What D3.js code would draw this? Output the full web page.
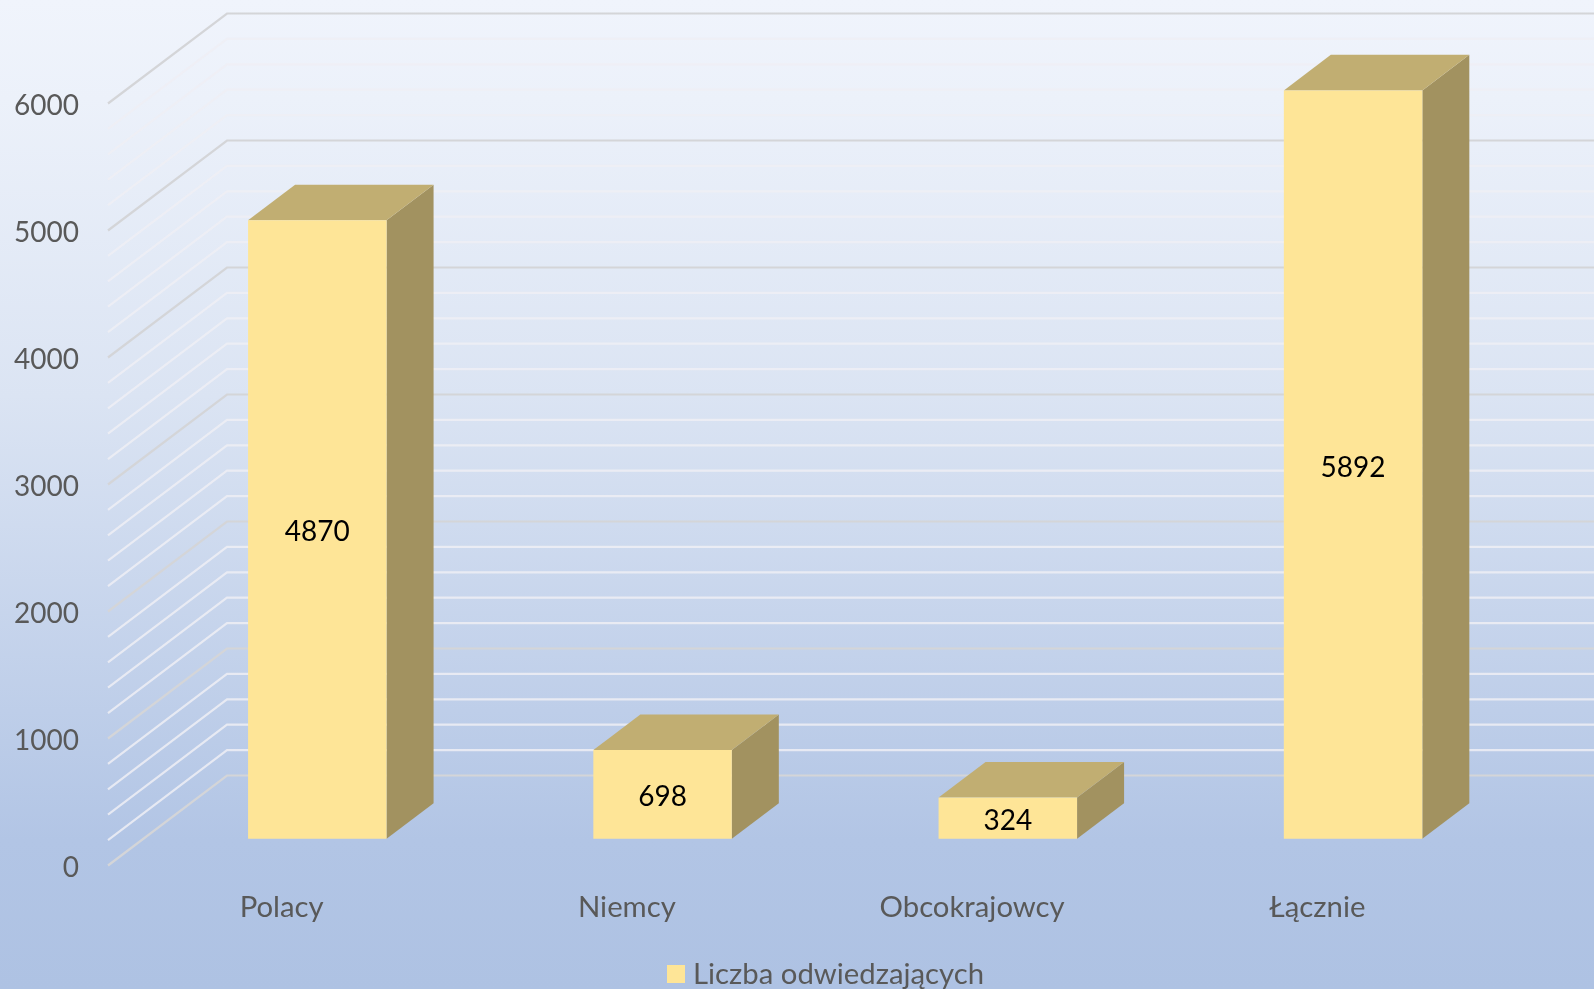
<!DOCTYPE html>
<html><head><meta charset="utf-8">
<script src="https://cdn.jsdelivr.net/npm/d3@7"></script>
<style>html,body{margin:0;padding:0;overflow:hidden;background:#aec2e3}svg{display:block}text{font-family:Lato,"Open Sans",sans-serif}.soft{filter:blur(0.5px)}</style>
</head><body><div id="c"></div>
<script>
const categories = ["Polacy","Niemcy","Obcokrajowcy","Łącznie"];
const values = [4870,698,324,5892];
const seriesName = "Liczba odwiedzających";
const yMax = 6000, majorStep = 1000, minorStep = 200;

const W=1594,H=989;
const depth={x:119,y:90}, barZ=[0.3,0.695];
const svg=d3.select("#c").append("svg").attr("width",W).attr("height",H);
const defs=svg.append("defs");
const g=defs.append("linearGradient").attr("id","bg").attr("x1",0).attr("y1",0).attr("x2",0).attr("y2",1);
[[0,"#f0f4fc"],[0.1,"#ecf1fa"],[0.4,"#dbe4f3"],[0.85,"#b2c5e5"],[1,"#aec2e3"]].forEach(s=>g.append("stop").attr("offset",s[0]).attr("stop-color",s[1]));
svg.append("rect").attr("width",W).attr("height",H).attr("fill","url(#bg)");

const root=svg.append("g").attr("class","soft");
const y=d3.scaleLinear().domain([0,yMax]).range([865,103]);
const xc=d3.scaleBand().domain(categories).range([108,1489]);
const P=(px,v,z)=>[px+z*depth.x,y(v)-z*depth.y];
const line=d3.line();

// grid
const gridVals=d3.range(0,yMax+1,minorStep);
const isMajor=v=>v%majorStep===0;
root.append("g").selectAll("path").data(gridVals.slice().sort((a,b)=>isMajor(a)-isMajor(b))).join("path")
 .attr("d",v=>line([[108,y(v)+0.5],[108+depth.x,y(v)+0.5-depth.y],[W+20,y(v)+0.5-depth.y]]))
 .attr("fill","none")
 .attr("stroke",v=>isMajor(v)?"#d4d5d8":"#eeeff4")
 .attr("stroke-opacity",v=>isMajor(v)?1:0.85)
 .attr("stroke-width",2.2);

// bars
const bars=root.append("g").attr("transform","translate(1,0.7)").selectAll("g").data(categories.map((c,i)=>({c,v:values[i]}))).join("g");
const bw=138.5;
const left=d=>xc(d.c)+xc.step()/2-bw/2;
const poly=f=>d=>line(f(d))+"Z";
bars.append("path").attr("fill","#a29260")
 .attr("d",poly(d=>[P(left(d)+bw,d.v,barZ[0]),P(left(d)+bw,d.v,barZ[1]),P(left(d)+bw,0,barZ[1]),P(left(d)+bw,0,barZ[0])]));
bars.append("path").attr("fill","#c1ae72")
 .attr("d",poly(d=>[P(left(d),d.v,barZ[0]),P(left(d),d.v,barZ[1]),P(left(d)+bw,d.v,barZ[1]),P(left(d)+bw,d.v,barZ[0])]));
bars.append("path").attr("fill","#fee597")
 .attr("d",poly(d=>[P(left(d),d.v,barZ[0]),P(left(d)+bw,d.v,barZ[0]),P(left(d)+bw,0,barZ[0]),P(left(d),0,barZ[0])]));
bars.append("text").attr("text-anchor","middle").attr("fill","#000").attr("font-size",28)
 .attr("x",d=>P(left(d)+bw/2,0,barZ[0])[0])
 .attr("y",d=>(P(0,d.v,barZ[0])[1]+P(0,0,barZ[0])[1])/2+12)
 .text(d=>d.v);

// axes
const ax=root.append("g").attr("transform","translate(79,1)")
 .call(d3.axisLeft(y).tickValues(d3.range(0,yMax+1,majorStep)).tickSize(0).tickPadding(0).tickFormat(d3.format("d")));
ax.select(".domain").remove();
ax.selectAll("text").attr("fill","#595959").attr("font-size",28).attr("font-family","Lato").attr("dy","0.36em");

const bx=root.append("g").attr("transform","translate(1,917)")
 .call(d3.axisBottom(xc).tickSize(0).tickPadding(0));
bx.select(".domain").remove();
bx.selectAll("text").attr("fill","#595959").attr("font-size",29.3).attr("font-family","Lato").attr("dy",0);

// legend
root.append("rect").attr("x",667).attr("y",965).attr("width",18).attr("height",18).attr("fill","#fee597");
root.append("text").attr("x",693).attr("y",984).attr("fill","#595959").attr("font-size",29.3).text(seriesName);
</script></body></html>
